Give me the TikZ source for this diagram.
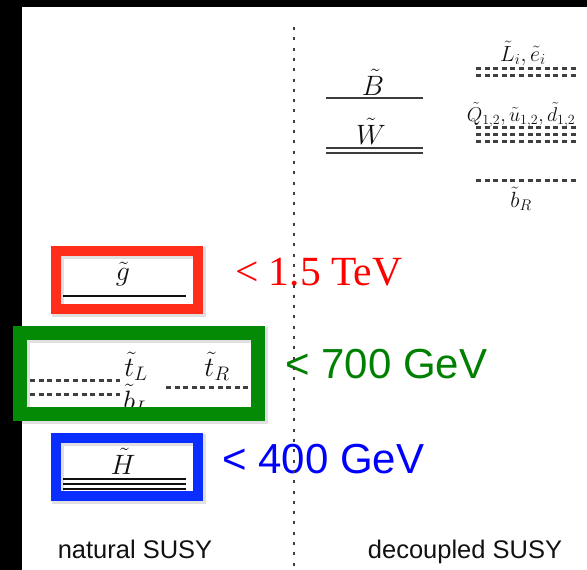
\RequirePackage{fix-cm}
\documentclass[tikz,border=0pt]{standalone}
\usepackage{fontspec}
\setmainfont{Liberation Serif}
\setsansfont{Liberation Sans}
\usetikzlibrary{positioning}
\definecolor{ink}{HTML}{111111}
\definecolor{lvl}{HTML}{3C3C3C}
\definecolor{dotc}{HTML}{3F3F3F}
\definecolor{redbox}{HTML}{FF2D1A}
\definecolor{redtxt}{HTML}{FF0000}
\definecolor{grnbox}{HTML}{058A05}
\definecolor{grntxt}{HTML}{008000}
\definecolor{blubox}{HTML}{0A2EFF}
\definecolor{blutxt}{HTML}{0000FF}
\tikzset{
  lbl/.style={inner sep=0pt, anchor=base, font=\fontsize{#1}{#1}\selectfont, text=ink},
  lbl/.default=22,
  level/.style={line width=2.6pt, draw=lvl},
  thinlvl/.style={line width=1.8pt, draw=ink},
  dotlvl/.style={line width=3pt, draw=dotc, dash pattern=on 5pt off 3.6pt},
  divider/.style={line width=2.4pt, draw=dotc, dash pattern=on 3pt off 7.3pt},
  limbox/.style={line width=#1, line join=miter},
  boxshade/.style={line width=#1, draw=black, opacity=0.12},
  limtxt/.style={inner sep=0pt, anchor=base west, font=\fontsize{42}{48}\selectfont\sffamily},
  caption/.style={inner sep=0pt, anchor=base, font=\fontsize{25.5}{30}\selectfont\sffamily, text=ink},
}

\begin{document}
\begin{tikzpicture}[x=1pt, y=-1pt]
  \useasboundingbox (0,0) rectangle (587,570);
  % frame edges of the slide
  \fill[black] (0,0) rectangle (22,570);
  \fill[black] (0,0) rectangle (587,7);

  % decoupled side
  \node[lbl=28] (bino) at (373,95) {$\tilde B$};
  \draw[level] (326,98) -- (423,98);
  \node[lbl=28] (wino) at (371,144) {$\tilde W$};
  \draw[level] (326,148) -- (423,148);
  \draw[level] (326,153) -- (423,153);

  \node[lbl] (slep) at (523,61) {$\tilde L_i, \tilde e_i$};
  \draw[dotlvl] (476,68) -- (578,68);
  \draw[dotlvl] (476,75) -- (578,75);
  \node[lbl=20] (sqk) at (521,121) {$\tilde Q_{1,2}, \tilde u_{1,2}, \tilde d_{1,2}$};
  \draw[dotlvl] (476,127) -- (578,127);
  \draw[dotlvl] (476,134) -- (578,134);
  \draw[dotlvl] (476,141) -- (578,141);
  \draw[dotlvl] (476,180) -- (578,180);
  \node[lbl] (sbr) at (521,207) {$\tilde b_R$};

  % natural side
  \node[lbl=28] (gluino) at (123,280) {$\tilde g$};
  \draw[thinlvl] (63,296) -- (186,296);

  \draw[dotlvl] (30,380) -- (120,380);
  \draw[dotlvl] (30,394) -- (120,394);
  \node[lbl=28] (stl) at (136,376) {$\tilde t_L$};
  \node[lbl=28] (sbl) at (136,410) {$\tilde b_L$};
  \node[lbl=28] (str) at (217,376) {$\tilde t_R$};
  \draw[dotlvl] (166,387) -- (252,387);

  \node[lbl=28] (hino) at (123,474) {$\tilde H$};
  \draw[thinlvl] (63,479) -- (186,479);
  \draw[thinlvl] (63,484) -- (186,484);
  \draw[thinlvl] (63,489) -- (186,489);

  % limit boxes
  \draw[boxshade=12pt] (58,253) rectangle (200,311);
  \draw[limbox=10pt, draw=redbox] (56,251) rectangle (198,309);
  \draw[boxshade=16pt] (22,335) rectangle (260,416);
  \draw[limbox=14pt, draw=grnbox] (20,333) rectangle (258,414);
  \draw[boxshade=12pt] (58,440) rectangle (200,498);
  \draw[limbox=10pt, draw=blubox] (56,438) rectangle (198,496);

  \node[limtxt, text=redtxt, font=\fontsize{41.5}{48}\selectfont\rmfamily] (glim) at (235,285) {< 1.5 TeV};
  \node[limtxt, text=grntxt] (tlim) at (285,378) {< 700 GeV};
  \node[limtxt, text=blutxt] (hlim) at (222,473) {< 400 GeV};

  \draw[divider] (294,27) -- (294,570);

  \node[caption] (nat) at (135,558) {natural SUSY};
  \node[caption] (dec) at (465,558) {decoupled SUSY};
\end{tikzpicture}
\end{document}
